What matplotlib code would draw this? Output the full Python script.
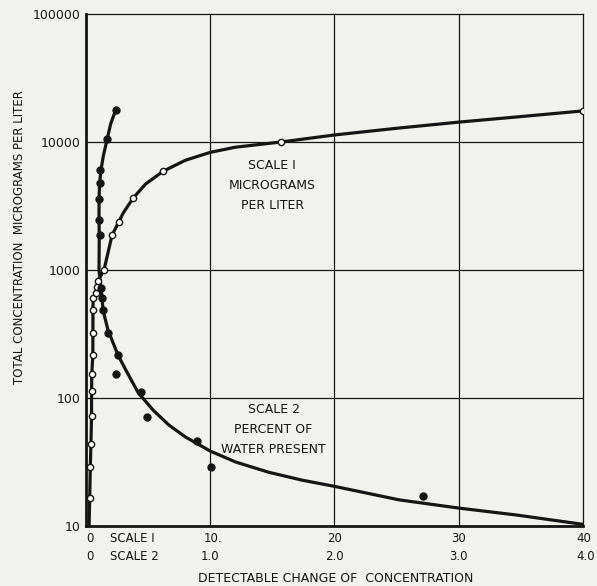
import matplotlib.pyplot as plt

# open circles (scale 1, micrograms per liter)
open_x = [0.3, 0.35, 0.4, 0.45, 0.45, 0.45, 0.55, 0.56, 0.56, 0.56, 0.8, 0.88, 0.96, 1.45, 2.1, 2.65, 3.8, 6.2, 15.7, 40]
open_y = [16.6, 29, 44, 72, 113, 154, 217, 322, 487, 603, 661, 736, 820, 1000, 1870, 2390, 3650, 5900, 10000, 17500]
# curve drawn through the open circles
open_curve_x = [0.25, 0.3, 0.35, 0.4, 0.45, 0.45, 0.47, 0.55, 0.56, 0.56, 0.58, 0.8, 0.88, 0.96, 1.45, 2.1, 2.65, 3.0, 3.8,
                4.8, 6.2, 8.0, 10, 12, 15.7, 20, 25, 30, 35, 40]
open_curve_y = [10, 16.6, 29, 44, 72, 113, 154, 217, 322, 487, 603, 661, 736, 820, 1000, 1870, 2390, 2790, 3650,
                4700, 5900, 7200, 8300, 9100, 10000, 11350, 12800, 14300, 15800, 17500]

# filled dots (scale 2, percent of water present)
fill_x = [2.4, 1.7, 1.12, 1.12, 1.05, 1.05, 1.12, 1.2, 1.3, 1.37, 1.8, 2.57, 2.4, 4.4, 4.9, 8.9, 10.1, 27.1]
fill_y = [17800, 10500, 6000, 4780, 3590, 2450, 1870, 725, 600, 487, 320, 217, 154, 111, 71, 46, 29, 17.1]
# curve drawn through the filled dots
fill_curve_x = [2.4, 2.0, 1.7, 1.4, 1.2, 1.1, 1.05, 1.05, 1.07, 1.05, 1.2, 1.3, 1.37, 1.77, 2.57, 3.2, 4.2, 5.4,
                6.67, 8.0, 10, 12.05, 14.7, 17.4, 20, 25.2, 30, 34.6, 40]
fill_curve_y = [17800, 14000, 10500, 7800, 6000, 4780, 3590, 2450, 1870, 1000, 725, 600, 487, 340, 217, 166, 110, 80.5,
                61.5, 49.6, 38.5, 31.6, 26.3, 22.8, 20.4, 16, 13.8, 12.2, 10.3]

ink = '#151515'
bg = '#f1f1ee'

fig = plt.figure(figsize=(5.97, 5.86), dpi=100, facecolor=bg)
ax = fig.add_axes([0.144, 0.1024, 0.8326, 0.8737])
ax.set_facecolor(bg)
ax.set_yscale('log')
ax.set_xlim(0, 40)
ax.set_ylim(10, 100000)

for gx in [10, 20, 30]:
    ax.axvline(gx, color=ink, lw=0.9, zorder=1)
for gy in [100, 1000, 10000]:
    ax.axhline(gy, color=ink, lw=0.9, zorder=1)

ax.plot(open_curve_x, open_curve_y, color=ink, lw=2.3, zorder=2, solid_joinstyle='round')
ax.plot(fill_curve_x, fill_curve_y, color=ink, lw=2.3, zorder=2, solid_joinstyle='round')
ax.plot(open_x, open_y, 'o', ms=4.5, mfc='white', mec=ink, mew=1.0, zorder=3)
ax.plot(fill_x, fill_y, 'o', ms=5, mfc=ink, mec=ink, zorder=3)

ax.text(15.0, 4600, 'SCALE I\nMICROGRAMS\nPER LITER', ha='center', va='center',
        fontsize=9, color=ink, linespacing=1.7)
ax.text(15.1, 57, 'SCALE 2\nPERCENT OF\nWATER PRESENT', ha='center', va='center',
        fontsize=9, color=ink, linespacing=1.7)

for side in ['left', 'bottom']:
    ax.spines[side].set_linewidth(2.0)
for side in ['top', 'right']:
    ax.spines[side].set_linewidth(0.9)
for s in ax.spines.values():
    s.set_color(ink)

ax.set_yticks([10, 100, 1000, 10000, 100000])
ax.set_yticklabels(['10', '100', '1000', '10000', '100000'])
ax.yaxis.set_minor_locator(plt.NullLocator())
ax.tick_params(axis='y', length=0, pad=4, labelsize=9, labelcolor=ink)
ax.set_xticks([])

# two rows of x scale labels
row1 = [(0.3, '0'), (10.2, '10.'), (20, '20'), (30, '30'), (40.1, '40')]
row2 = [(0.3, '0'), (10, '1.0'), (20, '2.0'), (30, '3.0'), (40.2, '4.0')]
trans = ax.get_xaxis_transform()
for xv, s in row1:
    ax.text(xv, -0.0254, s, transform=trans, ha='center', va='center', fontsize=8.5, color=ink)
for xv, s in row2:
    ax.text(xv, -0.0605, s, transform=trans, ha='center', va='center', fontsize=8.5, color=ink)
ax.text(1.93, -0.0254, 'SCALE I', transform=trans, ha='left', va='center', fontsize=8.5, color=ink)
ax.text(1.93, -0.0605, 'SCALE 2', transform=trans, ha='left', va='center', fontsize=8.5, color=ink)

ax.text(20.1, -0.102, 'DETECTABLE CHANGE OF  CONCENTRATION', transform=trans,
        ha='center', va='center', fontsize=9, color=ink)
fig.text(0.032, 0.595, 'TOTAL CONCENTRATION  MICROGRAMS PER LITER', rotation=90,
         ha='center', va='center', fontsize=8.5, color=ink)

fig.savefig('out.png', dpi=100, facecolor=bg)
